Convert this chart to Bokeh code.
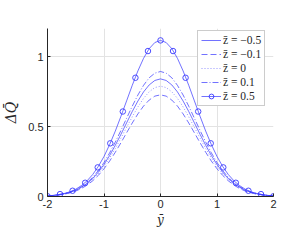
from bokeh.plotting import figure
from bokeh.models import Legend, LegendItem, FixedTicker, Range1d
from bokeh.embed import file_html
from bokeh.resources import INLINE

# half-profile values at y = 0, 0.1, ..., 2 (curves are symmetric)
y_half = [round(0.1 * i, 1) for i in range(21)]
q_m05 = [0.840, 0.829, 0.797, 0.747, 0.682, 0.607, 0.526, 0.444, 0.366, 0.293, 0.229,
         0.174, 0.129, 0.093, 0.066, 0.045, 0.030, 0.020, 0.012, 0.007, 0.003]
q_m01 = [0.726, 0.717, 0.689, 0.646, 0.590, 0.525, 0.455, 0.384, 0.316, 0.253, 0.198,
         0.151, 0.112, 0.081, 0.057, 0.039, 0.026, 0.017, 0.011, 0.006, 0.003]
q_0 = [0.788, 0.778, 0.748, 0.701, 0.640, 0.569, 0.494, 0.417, 0.343, 0.275, 0.215,
       0.163, 0.121, 0.088, 0.062, 0.042, 0.028, 0.018, 0.012, 0.006, 0.003]
q_01 = [0.893, 0.881, 0.848, 0.794, 0.725, 0.645, 0.559, 0.472, 0.389, 0.312, 0.243,
        0.185, 0.137, 0.099, 0.070, 0.048, 0.032, 0.021, 0.013, 0.007, 0.003]
q_05 = [1.115, 1.100, 1.056, 0.987, 0.897, 0.794, 0.683, 0.573, 0.467, 0.371, 0.286,
        0.215, 0.157, 0.112, 0.078, 0.052, 0.034, 0.022, 0.014, 0.008, 0.003]
# marker positions for z = 0.5 (every 2/9)
mk_y_half = [0.0, 0.222, 0.444, 0.667, 0.889, 1.111, 1.333, 1.556, 1.778, 2.0]
mk_q_half = [1.115, 1.039, 0.848, 0.607, 0.380, 0.208, 0.098, 0.041, 0.017, 0.002]

labels = ["z̄ = −0.5", "z̄ = −0.1", "z̄ = 0", "z̄ = 0.1", "z̄ = 0.5"]
x_ticks = [-2, -1, 0, 1, 2]
y_ticks = [0, 0.5, 1]


def mirror(xs, vs):
    return [-x for x in xs[:0:-1]] + list(xs), list(vs[:0:-1]) + list(vs)


p = figure(width=281, height=240, output_backend="svg", toolbar_location=None,
           x_range=Range1d(-2, 2), y_range=Range1d(0, 1.2),
           min_border_left=45, min_border_right=8, min_border_top=28,
           min_border_bottom=44)
p.outline_line_color = None
p.background_fill_color = "white"

col = "#3a3aff"
lw = 0.9
xs, ys = mirror(y_half, q_m05)
r1 = p.line(xs, ys, line_color=col, line_width=lw, line_alpha=0.8)
xs, ys = mirror(y_half, q_m01)
r2 = p.line(xs, ys, line_color=col, line_width=lw, line_alpha=0.8, line_dash="6 3")
xs, ys = mirror(y_half, q_0)
r3 = p.line(xs, ys, line_color=col, line_width=lw, line_alpha=0.6, line_dash="1 2")
xs, ys = mirror(y_half, q_01)
r4 = p.line(xs, ys, line_color=col, line_width=lw, line_alpha=0.8, line_dash="6 2 1 2")
xs, ys = mirror(y_half, q_05)
r5 = p.line(xs, ys, line_color=col, line_width=lw, line_alpha=0.8)
mx, my = mirror(mk_y_half, mk_q_half)
r6 = p.scatter(mx, my, marker="circle", size=5.5, fill_color=None,
               line_color=col, line_width=1.0, line_alpha=0.9)

for ax in (p.xaxis, p.yaxis):
    ax.axis_line_color = "#262626"
    ax.major_tick_line_color = "#262626"
    ax.major_tick_in = 3
    ax.major_tick_out = 0
    ax.minor_tick_line_color = None
    ax.major_label_text_font = "Liberation Sans"
    ax.major_label_text_font_size = "11px"
    ax.major_label_text_color = "#262626"
    ax.axis_label_text_font = "DejaVu Serif"
    ax.axis_label_text_font_style = "italic"
    ax.axis_label_text_color = "#262626"

p.xaxis.axis_label_text_font_size = "12px"
p.yaxis.axis_label_text_font_size = "14px"
p.xaxis.ticker = FixedTicker(ticks=x_ticks)
p.yaxis.ticker = FixedTicker(ticks=y_ticks)
p.xaxis.major_label_overrides = {-2: "-2", -1: "-1"}
p.xaxis.axis_label = "ȳ"
p.yaxis.axis_label = "ΔQ̄"
p.xaxis.axis_label_standoff = 2
p.yaxis.axis_label_standoff = 6
p.xaxis.major_label_standoff = 3
p.yaxis.major_label_standoff = 4

p.xgrid.ticker = FixedTicker(ticks=x_ticks)
p.ygrid.ticker = FixedTicker(ticks=y_ticks)
p.grid.grid_line_color = "#e3e3e3"
p.grid.grid_line_width = 1

legend = Legend(items=[
    LegendItem(label=labels[0], renderers=[r1]),
    LegendItem(label=labels[1], renderers=[r2]),
    LegendItem(label=labels[2], renderers=[r3]),
    LegendItem(label=labels[3], renderers=[r4]),
    LegendItem(label=labels[4], renderers=[r5, r6]),
], location=(150, 90))
legend.label_text_font = "Liberation Serif"
legend.label_text_font_size = "11.5px"
legend.label_text_color = "#262626"
legend.label_height = 12
legend.glyph_height = 12
legend.glyph_width = 20
legend.label_standoff = 2
legend.spacing = 2
legend.padding = 3
legend.margin = 0
legend.border_line_color = "#999999"
legend.border_line_width = 1
legend.background_fill_color = "white"
legend.background_fill_alpha = 1
p.add_layout(legend, "center")

open("out.html", "w").write(file_html(p, INLINE))
